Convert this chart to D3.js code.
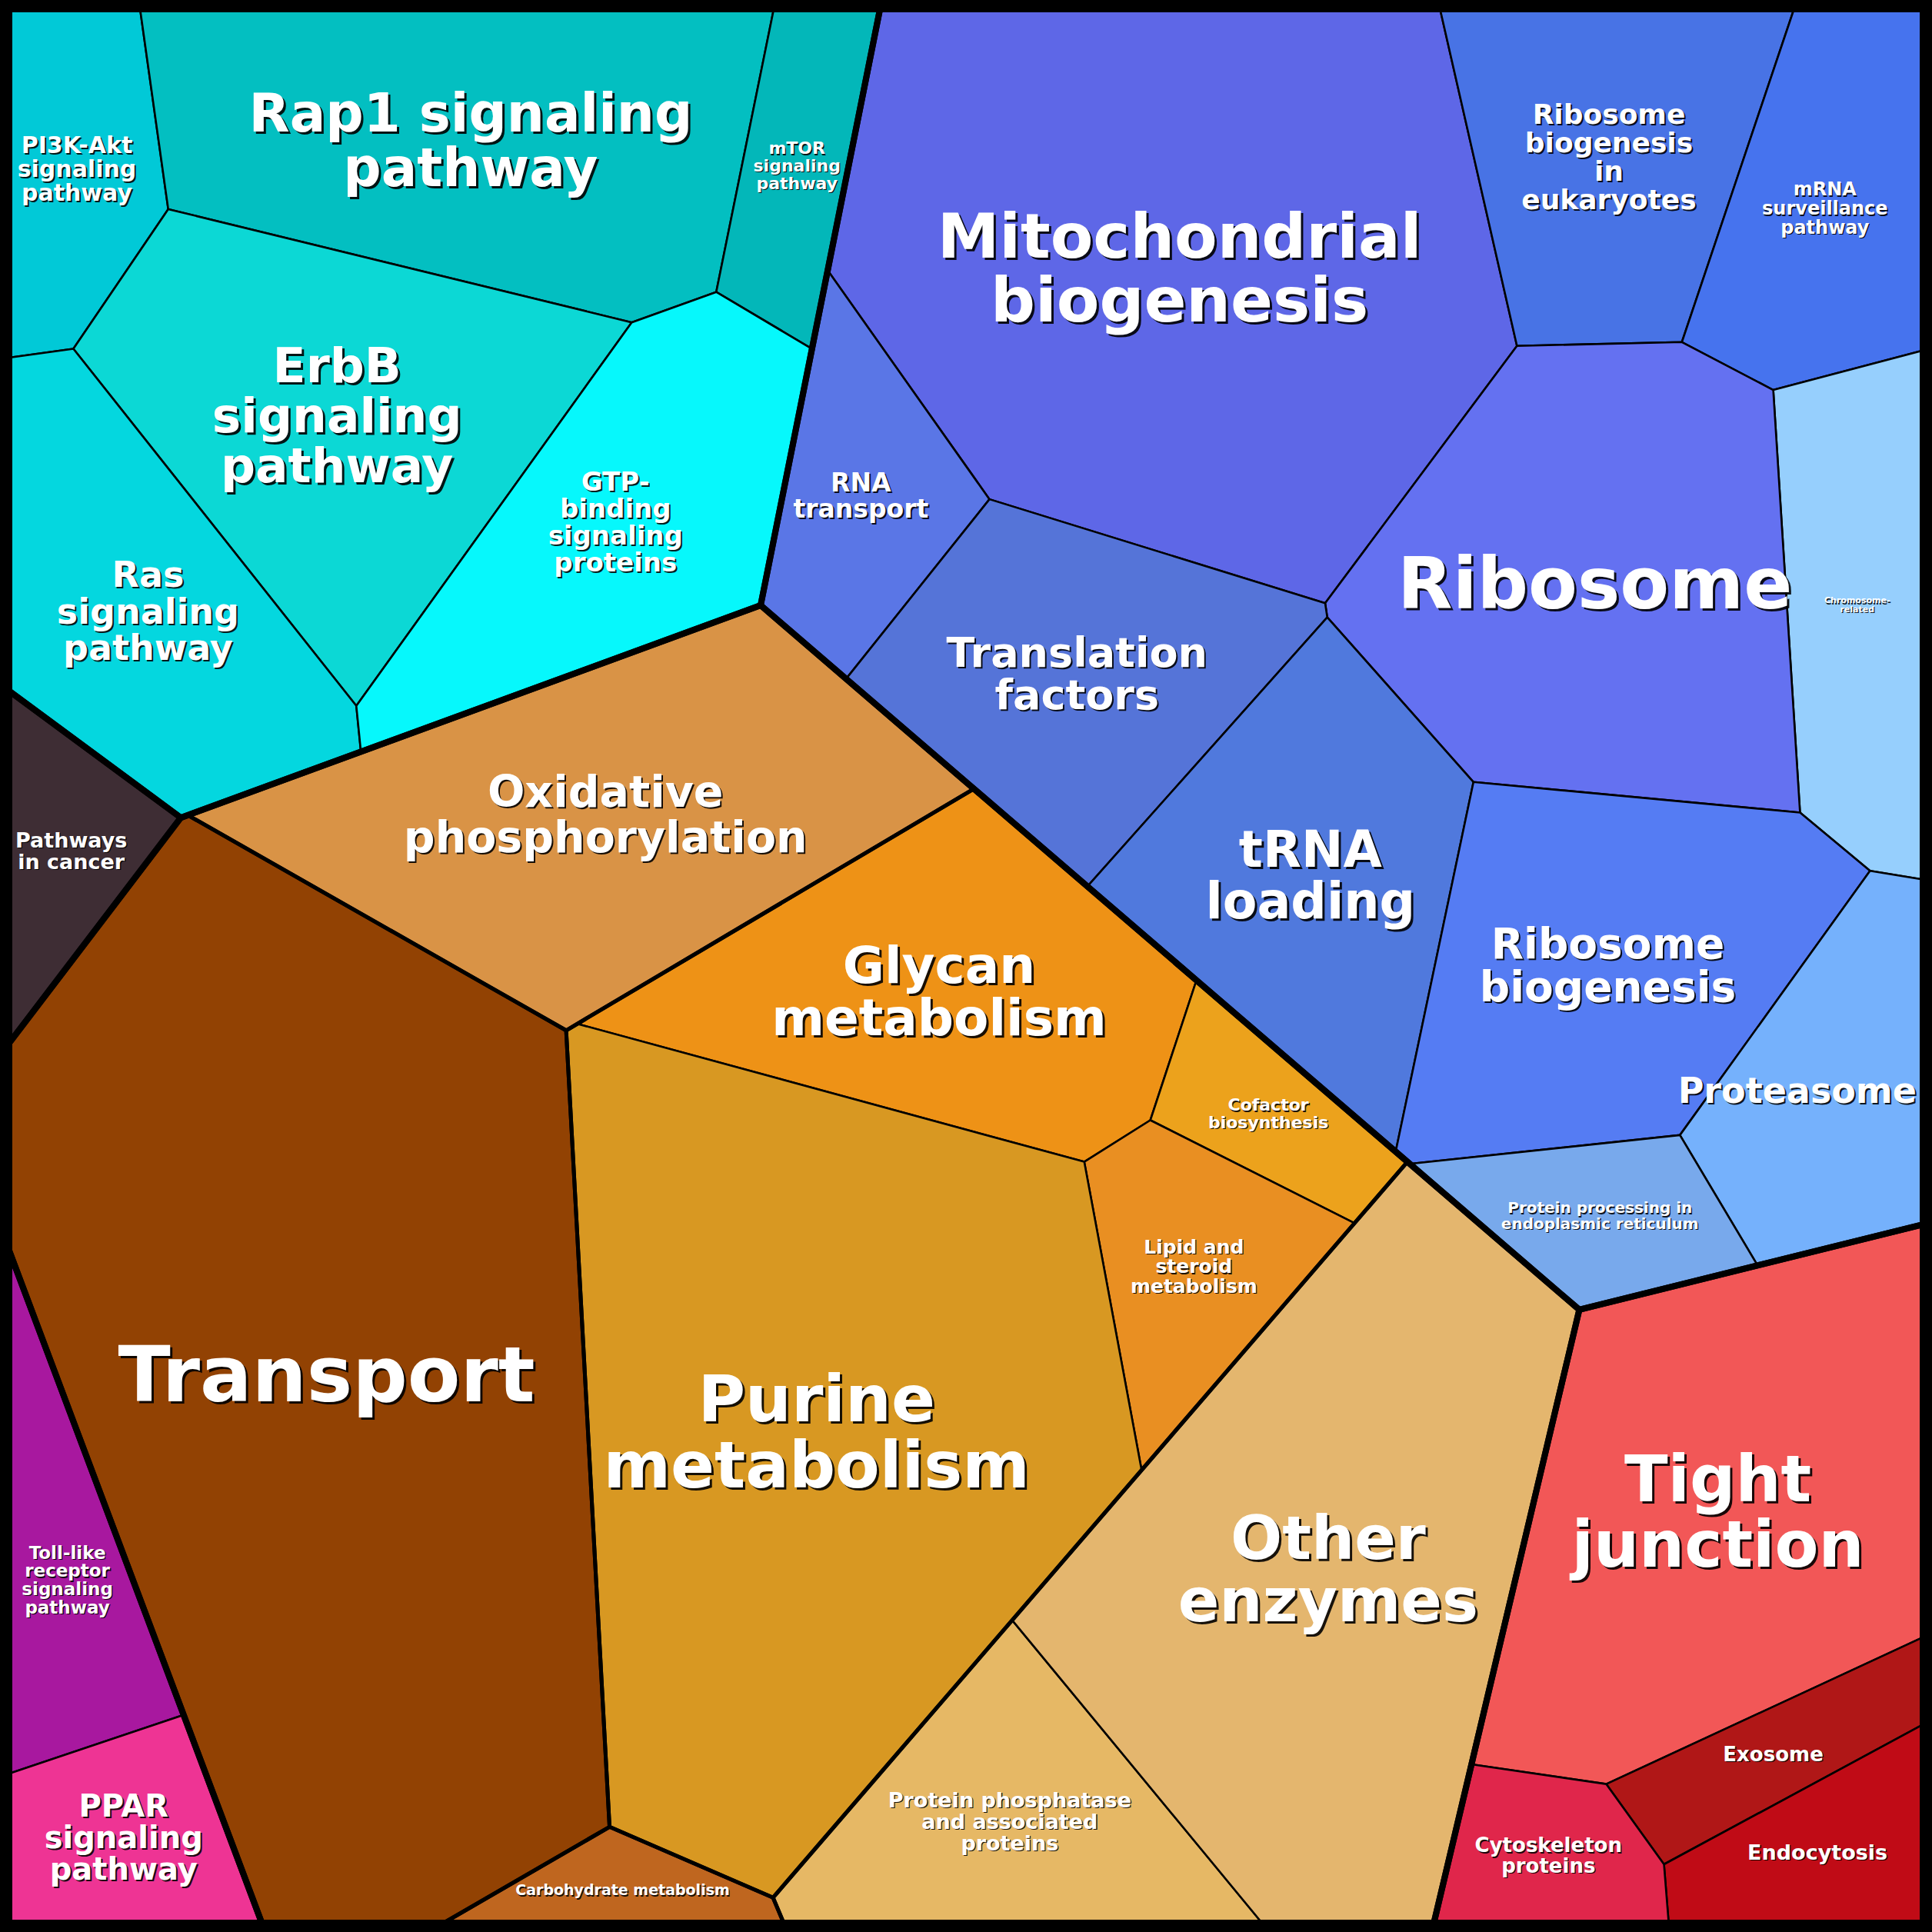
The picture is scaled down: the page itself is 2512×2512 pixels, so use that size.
<!DOCTYPE html>
<html><head><meta charset="utf-8">
<script src="https://cdn.jsdelivr.net/npm/d3@7"></script>
<style>html,body{margin:0;padding:0;background:#fff}</style>
</head><body>
<script>
// ---------------- DATA ----------------
const names = ["PI3K-Akt signaling pathway","Rap1 signaling pathway","mTOR signaling pathway","ErbB signaling pathway","Ras signaling pathway","GTP-binding signaling proteins",
 "Pathways in cancer","Toll-like receptor signaling pathway","PPAR signaling pathway",
 "Transport","Oxidative phosphorylation","Glycan metabolism","Cofactor biosynthesis","Lipid and steroid metabolism","Purine metabolism","Carbohydrate metabolism","Protein phosphatase and associated proteins","Other enzymes",
 "Tight junction","Exosome","Endocytosis","Cytoskeleton proteins",
 "Mitochondrial biogenesis","Ribosome biogenesis in eukaryotes","mRNA surveillance pathway","Chromosome-related","Ribosome","RNA transport","Translation factors","tRNA loading","Ribosome biogenesis","Proteasome","Protein processing in endoplasmic reticulum"];
const labels = ["PI3K-Akt|signaling|pathway","Rap1 signaling|pathway","mTOR|signaling|pathway","ErbB|signaling|pathway","Ras|signaling|pathway","GTP-|binding|signaling|proteins",
 "Pathways|in cancer","Toll-like|receptor|signaling|pathway","PPAR|signaling|pathway",
 "Transport","Oxidative|phosphorylation","Glycan|metabolism","Cofactor|biosynthesis","Lipid and|steroid|metabolism","Purine|metabolism","Carbohydrate metabolism","Protein phosphatase|and associated|proteins","Other|enzymes",
 "Tight|junction","Exosome","Endocytosis","Cytoskeleton|proteins",
 "Mitochondrial|biogenesis","Ribosome|biogenesis|in|eukaryotes","mRNA|surveillance|pathway","Chromosome-|related","Ribosome","RNA|transport","Translation|factors","tRNA|loading","Ribosome|biogenesis","Proteasome","Protein processing in|endoplasmic reticulum"];
const groups = ["Signaling","Signaling","Signaling","Signaling","Signaling","Signaling",
 "Cancer","Immune","Immune",
 "Metabolism","Metabolism","Metabolism","Metabolism","Metabolism","Metabolism","Metabolism","Metabolism","Metabolism",
 "Cellular","Cellular","Cellular","Cellular",
 "Genetic","Genetic","Genetic","Genetic","Genetic","Genetic","Genetic","Genetic","Genetic","Genetic","Genetic"];
const subgroups = ["Signaling","Signaling","Signaling","Signaling","Signaling","Signaling",
 "Cancer","Immune","Immune",
 "Transport","Energy","Biosynthesis","Biosynthesis","Biosynthesis","Biosynthesis","Carbohydrate","Enzymes","Enzymes",
 "Cellular","Cellular","Cellular","Cellular",
 "Info","Info","Info","Info","Info","Info","Info","Info","Info","Info","Info"];
const values = [29.7,102.7,22.0,93.5,63.3,66.8,
 20.0,30.2,26.0,
 321.3,109.0,80.5,18.5,31.5,229.3,11.9,50.9,162.9,
 119.0,18.7,21.9,19.1,
 206.8,57.5,45.0,43.6,110.4,31.6,65.2,70.7,81.5,41.1,23.5];

// ---------------- STYLE ----------------
const colors = ["#01c9d7","#03bfc1","#03b7b9","#0cd8d5","#04d7df","#06f8fc",
 "#3e2d34","#a8189f","#ee3494",
 "#924203","#d99346","#ee9216","#eca21c","#e98f22","#d89822","#bf661f","#e6b865","#e4b66e",
 "#f25757","#b01717","#c00b16","#e0264b",
 "#5e67e7","#4873e5","#4673ee","#96cffd","#6471f1","#5a76e6","#5574d8","#5079dd","#557cf3","#75b1fc","#78a9ec"];
const fontSizes = [30,69,22,63,46,34,
 27,23,40,
 100,57,66,22,25,84,19,27,79,
 83,26,27,26,
 81,36,24,11,93,33,54,65,55,46,20];

// ---------------- LAYOUT HINTS (generator sites, fraction of square) ----------------
const seedX = [0.037,0.229,0.411,0.196,0.066,0.306,
 0.028,0.026,0.071,
 0.1605,0.313,0.480,0.656,0.594,0.422,0.329,0.536,0.696,
 0.851,0.921,0.955,0.818,
 0.614,0.833,0.934,0.980,0.838,0.440,0.549,0.669,0.821,0.935,0.836];
const seedY = [0.093,0.066,0.103,0.201,0.304,0.280,
 0.418,0.761,0.895,
 0.693,0.425,0.522,0.580,0.703,0.735,0.984,0.946,0.814,
 0.741,0.892,0.955,0.966,
 0.135,0.085,0.119,0.293,0.302,0.258,0.345,0.452,0.484,0.566,0.625];

// ---------------- POWER DIAGRAM VORONOI TREEMAP ----------------
function polyArea(p){ return Math.abs(d3.polygonArea(p)); }
function clipHalf(poly, ax, ay, b, lab){
  const out=[]; const n=poly.length;
  for(let i=0;i<n;i++){
    const P=poly[i], Q=poly[(i+1)%n];
    const fp=ax*P.p[0]+ay*P.p[1]-b, fq=ax*Q.p[0]+ay*Q.p[1]-b;
    if(fp<=0){
      out.push(P);
      if(fq>0){ const t=fp/(fp-fq); out.push({p:[P.p[0]+t*(Q.p[0]-P.p[0]), P.p[1]+t*(Q.p[1]-P.p[1])], e:lab}); }
    } else if(fq<0){
      const t=fp/(fp-fq); out.push({p:[P.p[0]+t*(Q.p[0]-P.p[0]), P.p[1]+t*(Q.p[1]-P.p[1])], e:P.e});
    }
  }
  return out;
}
function powerCellsL(S,W,clip){
  return S.map((si,i)=>{
    let poly=clip.map(p=>({p:p, e:-1}));
    for(let j=0;j<S.length && poly.length>=3;j++){
      if(j===i) continue;
      const sj=S[j];
      const ax=2*(sj[0]-si[0]), ay=2*(sj[1]-si[1]);
      if(Math.abs(ax)+Math.abs(ay)<1e-12) continue;
      const b=(sj[0]*sj[0]+sj[1]*sj[1])-(si[0]*si[0]+si[1]*si[1])-W[j]+W[i];
      poly=clipHalf(poly,ax,ay,b,j);
    }
    if(poly.length<3) return null;
    if(polyArea(poly.map(v=>v.p))<1e-12) return null;
    return poly;
  });
}
function pullInside(clip,C0,p){
  let q=p.slice(), k=0;
  while(!d3.polygonContains(clip,q) && k<40){ q=[C0[0]+(q[0]-C0[0])*0.9, C0[1]+(q[1]-C0[1])*0.9]; k++; }
  return q;
}
// sites fixed at the hints; weights solved so that each cell's area matches its value
function fitLevel(clip, items){
  const n=items.length;
  if(n===1) return [clip];
  const A0=polyArea(clip), C0=d3.polygonCentroid(clip);
  const tot=d3.sum(items,d=>d.value);
  const T=items.map(d=>d.value/tot*A0);
  let mx=0,my=0; items.forEach((d,i)=>{mx+=T[i]*d.tx; my+=T[i]*d.ty;}); mx/=A0; my/=A0;
  const S=items.map(d=>pullInside(clip,C0,[d.tx+C0[0]-mx, d.ty+C0[1]-my]));
  const W=new Array(n).fill(0);
  for(let it=0;it<800;it++){
    const cells=powerCellsL(S,W,clip);
    const dW=new Array(n).fill(0);
    for(let i=0;i<n;i++){
      const c=cells[i];
      if(!c){ dW[i]=0.3*T[i]; continue; }
      const a=polyArea(c.map(v=>v.p));
      let der=0;
      for(let k=0;k<c.length;k++){
        const j=c[k].e; if(j<0) continue;
        const p=c[k].p, q=c[(k+1)%c.length].p;
        der+=Math.hypot(q[0]-p[0],q[1]-p[1])/(2*Math.hypot(S[j][0]-S[i][0],S[j][1]-S[i][1]));
      }
      if(der>1e-12) dW[i]=0.5*(T[i]-a)/der;
    }
    for(let i=0;i<n;i++) W[i]+=dW[i];
    const mw=d3.mean(W); for(let i=0;i<n;i++) W[i]-=mw;
  }
  return powerCellsL(S,W,clip).map(c=>c?c.map(v=>v.p):[]);
}

const leaves = names.map((nm,i)=>({i, name:nm, value:values[i], tx:seedX[i], ty:seedY[i], group:groups[i], sub:subgroups[i]}));
function aggregate(list, key){
  const m=d3.group(list, d=>d[key]);
  return Array.from(m, ([k, arr])=>{
    const v=d3.sum(arr,d=>d.value);
    return {key:k, value:v, tx:d3.sum(arr,d=>d.value*d.tx)/v, ty:d3.sum(arr,d=>d.value*d.ty)/v, members:arr};
  });
}
const unit=[[0,0],[1,0],[1,1],[0,1]];
const groupNodes=aggregate(leaves,"group");
const groupPolys=fitLevel(unit, groupNodes);
const subPolysAll=[];
const leafPolys=new Array(leaves.length);
groupNodes.forEach((g,gi)=>{
  const subs=aggregate(g.members,"sub");
  const sp=fitLevel(groupPolys[gi], subs);
  subs.forEach((s,si)=>{
    subPolysAll.push({poly:sp[si], multi:subs.length>1});
    const lp=fitLevel(sp[si], s.members);
    s.members.forEach((d,k)=>{ leafPolys[d.i]=lp[k]||[]; });
  });
});

// ---------------- DRAW ----------------
const SIZE=2512, PAD=12;
const x=d3.scaleLinear().domain([0,1]).range([PAD,SIZE-PAD]);
const y=d3.scaleLinear().domain([0,1]).range([PAD,SIZE-PAD]);
const svg=d3.select("body").append("svg").attr("width",SIZE).attr("height",SIZE).style("display","block");
svg.append("rect").attr("width",SIZE).attr("height",SIZE).attr("fill","#000");
const line=d3.line().x(p=>x(p[0])).y(p=>y(p[1])).curve(d3.curveLinearClosed);

svg.append("g").selectAll("path").data(leaves).join("path")
  .attr("d",d=>leafPolys[d.i].length?line(leafPolys[d.i]):null)
  .attr("fill",d=>colors[d.i]).attr("stroke","#000").attr("stroke-width",2.6).attr("stroke-linejoin","round");
svg.append("g").selectAll("path").data(subPolysAll.filter(s=>s.multi && s.poly.length)).join("path")
  .attr("d",d=>line(d.poly)).attr("fill","none").attr("stroke","#000").attr("stroke-width",5).attr("stroke-linejoin","round");
svg.append("g").selectAll("path").data(groupPolys.filter(p=>p.length)).join("path")
  .attr("d",d=>line(d)).attr("fill","none").attr("stroke","#000").attr("stroke-width",8).attr("stroke-linejoin","round");
svg.append("rect").attr("x",PAD/2).attr("y",PAD/2).attr("width",SIZE-PAD).attr("height",SIZE-PAD)
  .attr("fill","none").attr("stroke","#000").attr("stroke-width",PAD);

const lg=svg.append("g").attr("font-family","'DejaVu Sans', Verdana, sans-serif").attr("font-weight","bold").attr("text-anchor","middle");
leaves.forEach(d=>{
  const poly=leafPolys[d.i]; if(!poly.length) return;
  const c=d3.polygonCentroid(poly);
  let cx=x(c[0]); const cy=y(c[1]);
  const fs=fontSizes[d.i];
  const lines=labels[d.i].split("|");
  const lh=fs*1.03;
  const off=fs<30?1.3:(fs<60?2:3);
  // measure width for keeping the label inside the frame
  const probe=lg.append("text").attr("font-size",fs);
  lines.forEach((ln,k)=>probe.append("tspan").attr("x",0).attr("y",k*lh).text(ln));
  let w=0; try{ w=probe.node().getBBox().width; }catch(e){ w=0; }
  probe.remove();
  const lo=PAD+8+w/2, hi=SIZE-PAD-8-w/2;
  cx=Math.max(lo,Math.min(hi,cx));
  [["#000",off,0.9],["#fff",0,1]].forEach(([fill,o,op])=>{
    const t=lg.append("text").attr("font-size",fs).attr("fill",fill).attr("fill-opacity",op);
    lines.forEach((ln,k)=>{
      t.append("tspan").attr("x",cx+o).attr("y",cy+o+(k-(lines.length-1)/2)*lh+fs*0.36).text(ln);
    });
  });
});
</script>
</body></html>
